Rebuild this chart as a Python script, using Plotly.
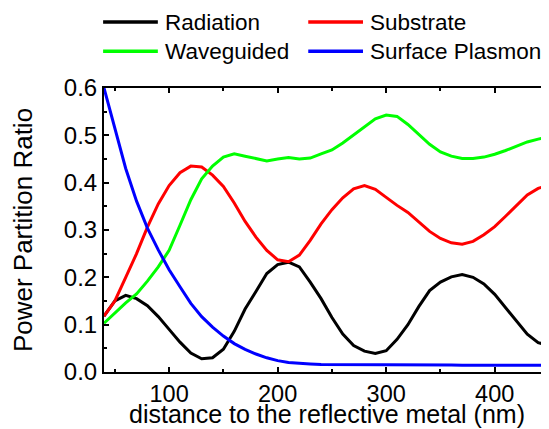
import plotly.graph_objects as go

distance_nm = [40, 50, 60, 70, 80, 90, 100, 110, 120, 130, 140, 150, 160, 170, 180, 190,
               200, 210, 220, 230, 240, 250, 260, 270, 280, 290, 300, 310, 320, 330, 340,
               350, 360, 370, 380, 390, 400, 410, 420, 430, 440, 450]

radiation = [0.118, 0.150, 0.162, 0.155, 0.140, 0.117, 0.090, 0.063, 0.040, 0.028, 0.030,
             0.048, 0.086, 0.133, 0.170, 0.208, 0.227, 0.232, 0.222, 0.190, 0.155, 0.115,
             0.080, 0.056, 0.044, 0.039, 0.045, 0.069, 0.100, 0.138, 0.172, 0.190, 0.201,
             0.206, 0.200, 0.186, 0.164, 0.136, 0.108, 0.080, 0.062, 0.056]

substrate = [0.118, 0.150, 0.200, 0.250, 0.306, 0.355, 0.394, 0.421, 0.435, 0.433, 0.416,
             0.392, 0.357, 0.318, 0.285, 0.257, 0.237, 0.233, 0.247, 0.278, 0.313, 0.343,
             0.368, 0.387, 0.394, 0.386, 0.369, 0.352, 0.337, 0.317, 0.297, 0.282, 0.273,
             0.270, 0.276, 0.290, 0.307, 0.329, 0.352, 0.374, 0.388, 0.395]

waveguided = [0.103, 0.125, 0.146, 0.165, 0.192, 0.222, 0.257, 0.310, 0.364, 0.408, 0.435,
              0.454, 0.461, 0.456, 0.451, 0.446, 0.450, 0.453, 0.450, 0.452, 0.461, 0.469,
              0.484, 0.501, 0.518, 0.535, 0.543, 0.540, 0.523, 0.502, 0.481, 0.465, 0.456,
              0.451, 0.451, 0.454, 0.460, 0.468, 0.477, 0.486, 0.492, 0.497]

surface_plasmon = [0.600, 0.515, 0.430, 0.361, 0.304, 0.258, 0.216, 0.180, 0.145, 0.117,
                   0.095, 0.076, 0.060, 0.048, 0.038, 0.030, 0.024, 0.020, 0.018, 0.017,
                   0.016, 0.016, 0.016, 0.016, 0.016, 0.015, 0.015, 0.015, 0.015, 0.015,
                   0.015, 0.015, 0.015, 0.014, 0.014, 0.014, 0.014, 0.014, 0.014, 0.014,
                   0.014, 0.014]

series_names = ["Radiation", "Substrate", "Waveguided", "Surface Plasmon"]
series_colors = ["#000000", "#ff0000", "#00ff00", "#0000ff"]
series_values = [radiation, substrate, waveguided, surface_plasmon]

x_title = "distance to the reflective metal (nm)"
y_title = "Power Partition Ratio"

FONT = "Arial, Liberation Sans, sans-serif"

fig = go.Figure()
for name, color, vals in zip(series_names, series_colors, series_values):
    fig.add_trace(go.Scatter(x=distance_nm, y=vals, mode="lines", name=name,
                             line=dict(color=color, width=3), showlegend=False))

# manual legend (2 x 2)
legend_pos = [(-0.002, 1.232), (0.459, 1.232), (-0.002, 1.129), (0.459, 1.129)]
for (lx, ly), name, color in zip(legend_pos, series_names, series_colors):
    fig.add_shape(type="line", xref="paper", yref="paper", x0=lx, x1=lx + 0.123,
                  y0=ly, y1=ly, line=dict(color=color, width=3.5))
    fig.add_annotation(xref="paper", yref="paper", x=lx + 0.134, y=ly, text=name,
                       showarrow=False, xanchor="left", yanchor="middle",
                       font=dict(family=FONT, size=22.5, color="#000000"))

# x-axis title placed as annotation
fig.add_annotation(xref="paper", yref="paper", x=0.5, y=-0.148, text=x_title,
                   showarrow=False, xanchor="center", yanchor="middle",
                   font=dict(family=FONT, size=25, color="#000000"))

fig.update_layout(
    width=541, height=421,
    margin=dict(l=96, r=0, t=80, b=57),
    plot_bgcolor="white", paper_bgcolor="white",
    font=dict(family=FONT, size=22, color="#000000"),
    xaxis=dict(range=[40, 450], tickvals=[100, 200, 300, 400], ticks="inside",
               ticklen=5, tickwidth=2, tickcolor="black", showline=True, linewidth=2,
               linecolor="black", mirror="ticks", showgrid=False, zeroline=False,
               minor=dict(dtick=50, tick0=0, ticks="inside", ticklen=3, tickwidth=2,
                          tickcolor="black"),
               tickfont=dict(size=23.5)),
    yaxis=dict(range=[0, 0.6], dtick=0.1, tickformat=".1f", ticks="inside",
               ticklen=5, tickwidth=2, tickcolor="black", showline=True, linewidth=2,
               linecolor="black", showgrid=False, zeroline=False,
               minor=dict(dtick=0.05, ticks="inside", ticklen=3, tickwidth=2,
                          tickcolor="black"),
               title=dict(text=y_title, standoff=25, font=dict(size=26)),
               tickfont=dict(size=24)),
)

fig.write_html("out.html")
